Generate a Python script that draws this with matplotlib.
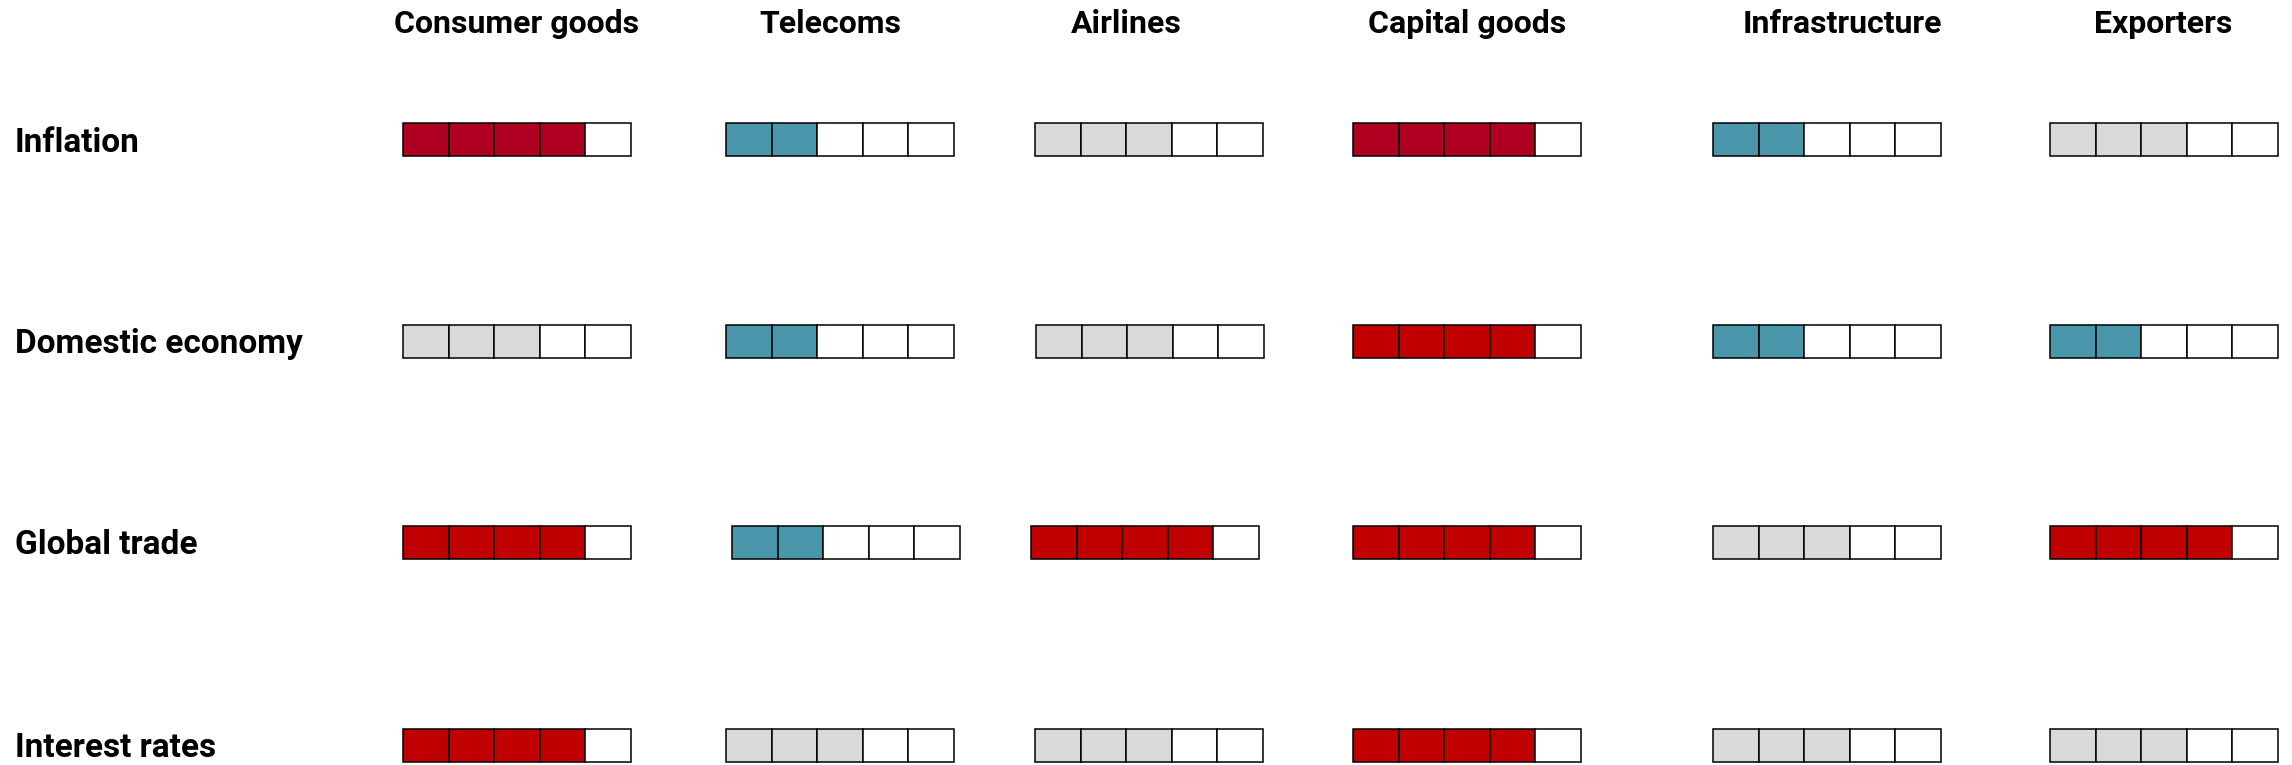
import matplotlib
matplotlib.use("Agg")
import matplotlib.pyplot as plt

# Sectors (columns) and macro drivers (rows)
sectors = ["Consumer goods", "Telecoms", "Airlines", "Capital goods", "Infrastructure", "Exporters"]
drivers = ["Inflation", "Domestic economy", "Global trade", "Interest rates"]

# Number of filled cells out of 5, per driver and sector
scores = {
    "Inflation":        [4, 2, 3, 4, 2, 3],
    "Domestic economy": [3, 2, 3, 4, 2, 2],
    "Global trade":     [4, 2, 4, 4, 3, 4],
    "Interest rates":   [4, 3, 3, 4, 3, 3],
}
# Direction of the impact: neg / pos / neu
impact = {
    "Inflation":        ["neg", "pos", "neu", "neg", "pos", "neu"],
    "Domestic economy": ["neu", "pos", "neu", "neg", "pos", "pos"],
    "Global trade":     ["neg", "pos", "neg", "neg", "neu", "neg"],
    "Interest rates":   ["neg", "neu", "neu", "neg", "neu", "neu"],
}
n_cells = 5

# colours
colors = {"neg": "#C00000", "pos": "#4A97AB", "neu": "#D9D9D9"}
inflation_red = "#B00022"

# layout (pixels, figure drawn 1:1)
W, H = 2292, 765
row_y = [139.5, 341, 542.5, 745]
col_x = [403, 726, 1035, 1353, 1713, 2050]
# small hand-placed nudges of a few groups
nudge = {("Global trade", 1): 6, ("Global trade", 2): -4, ("Domestic economy", 2): 1}
header_x = [517, 830, 1126, 1467, 1842, 2163]
cell_w, cell_h = 45.6, 33

plt.rcParams["font.family"] = ["Roboto", "DejaVu Sans"]

fig = plt.figure(figsize=(W / 100, H / 100), dpi=100)
ax = fig.add_axes([0, 0, 1, 1])
ax.set_xlim(0, W)
ax.set_ylim(H, 0)
ax.axis("off")

for r, drv in enumerate(drivers):
    y = row_y[r]
    for c, sec in enumerate(sectors):
        x0 = col_x[c] + nudge.get((drv, c), 0)
        fill = colors[impact[drv][c]]
        if drv == "Inflation" and impact[drv][c] == "neg":
            fill = inflation_red
        k = scores[drv][c]
        lefts = [x0 + i * cell_w for i in range(n_cells)]
        face = [fill if i < k else "white" for i in range(n_cells)]
        ax.barh([y] * n_cells, [cell_w] * n_cells, left=lefts, height=cell_h,
                color=face, edgecolor="black", linewidth=1.1)
    ax.text(15, y + 12, drv, fontsize=24, fontweight="bold", ha="left", va="baseline")

for c, sec in enumerate(sectors):
    ax.text(header_x[c], 33, sec, fontsize=23, fontweight="bold", ha="center", va="baseline")

fig.savefig("out.png", dpi=100)
